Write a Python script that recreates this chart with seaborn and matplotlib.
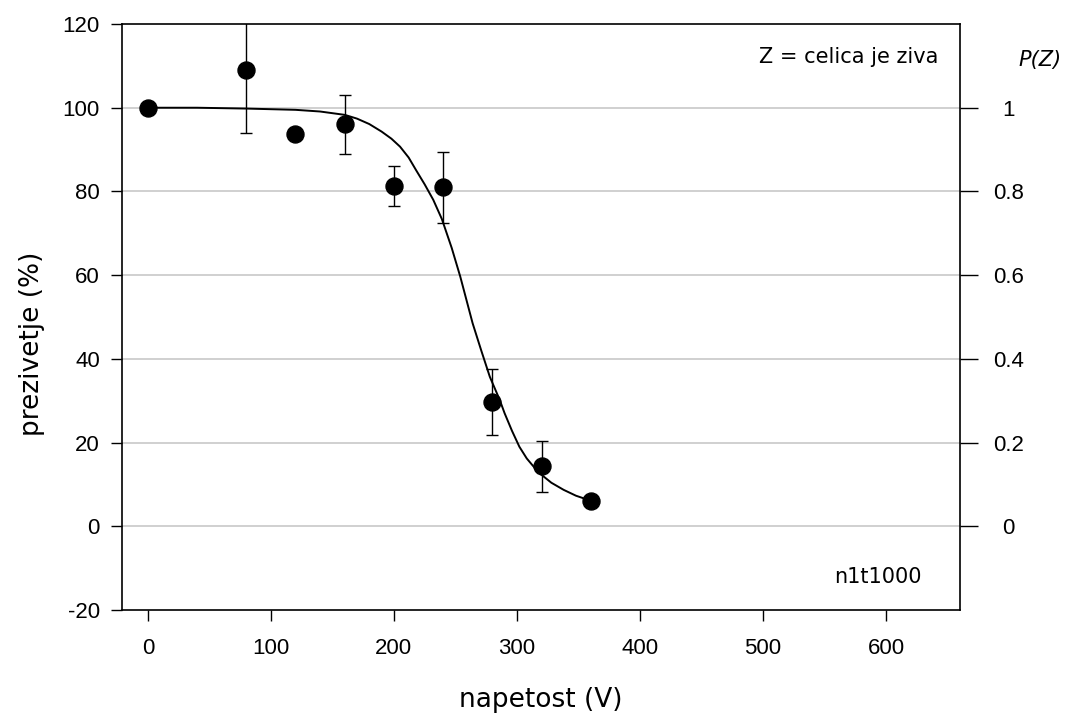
import numpy as np
import pandas as pd
import matplotlib
matplotlib.use("Agg")
import matplotlib.pyplot as plt
import seaborn as sns

# Measured survival points with error bars
napetost = [0, 80, 120, 160, 200, 240, 280, 320, 360]
prezivetje = [100, 109, 93.8, 96, 81.3, 81, 29.7, 14.3, 6]
napaka = [0, 15, 0, 7, 4.8, 8.5, 7.8, 6, 0]

# Fitted curve
krivulja_x = [0, 40, 80, 120, 140, 160, 170, 180, 190, 198, 205, 212, 218,
              225, 232, 239, 247, 254, 264, 271, 278, 286, 290, 296, 302,
              308, 314, 320, 328, 338, 348, 360]
krivulja_y = [100, 100, 99.8, 99.5, 99.1, 98.3, 97.4, 96.1, 94.3, 92.6, 90.7,
              88.1, 85.1, 81.7, 78, 73.4, 66.5, 59.6, 48.5, 42, 35.7, 30.2,
              27, 22.8, 19, 16.2, 14.1, 12.3, 10.4, 8.7, 7.3, 6.1]

x_ticks = [0, 100, 200, 300, 400, 500, 600]
y_ticks = [-20, 0, 20, 40, 60, 80, 100, 120]
p_ticks = [0, 0.2, 0.4, 0.6, 0.8, 1]
p_labels = ["0", "0.2", "0.4", "0.6", "0.8", "1"]

sns.set_style("white")
plt.rcParams['font.family'] = ['Liberation Sans', 'DejaVu Sans']
plt.rcParams['axes.unicode_minus'] = False
plt.rcParams['text.color'] = 'black'
plt.rcParams['axes.labelcolor'] = 'black'
label_font = 'DejaVu Sans'

fig = plt.figure(figsize=(10.76, 7.13), dpi=100)
ax = fig.add_axes([0.1134, 0.1445, 0.7786, 0.8218])

df_fit = pd.DataFrame({'x': krivulja_x, 'y': krivulja_y})
df_pts = pd.DataFrame({'x': napetost, 'y': prezivetje, 'err': napaka})

# horizontal grid
for g in [0, 20, 40, 60, 80, 100]:
    ax.axhline(g, color='#c8c8c8', lw=1.2, zorder=0)

sns.lineplot(data=df_fit, x='x', y='y', ax=ax, color='black', lw=1.4,
             sort=False, estimator=None, zorder=2)

e = df_pts[df_pts['err'] > 0]
ax.errorbar(e['x'], e['y'], yerr=e['err'], fmt='none', ecolor='black',
            elinewidth=1, capsize=4.5, capthick=1, zorder=3)
sns.scatterplot(data=df_pts, x='x', y='y', ax=ax, color='black', s=150,
                edgecolor='black', zorder=4)

ax.set_xlim(-21, 660)
ax.set_ylim(-20, 120)
ax.set_xticks(x_ticks)
ax.set_yticks(y_ticks)
ax.tick_params(axis='x', direction='out', length=8, width=1, labelsize=16,
               pad=12, bottom=True, colors='black')
ax.tick_params(axis='y', direction='out', length=8, width=1, labelsize=16,
               pad=8, left=True, colors='black')
for s in ax.spines.values():
    s.set_color('black')
    s.set_linewidth(1.2)

ax.set_xlabel('napetost (V)', fontsize=19, family=label_font, labelpad=20)
ax.set_ylabel('prezivetje (%)', fontsize=19, family=label_font)
ax.yaxis.set_label_coords(-0.092, 0.455)

# right axis: P(Z)
ax2 = ax.twinx()
ax2.set_ylim(-0.2, 1.2)
ax2.set_yticks(p_ticks)
ax2.set_yticklabels(p_labels, ha='center')
ax2.tick_params(axis='y', direction='out', length=13, width=1, labelsize=16,
                pad=22, right=True, colors='black')
ax2.grid(False)
for s in ax2.spines.values():
    s.set_visible(False)

ax.text(0.975, 0.96, 'Z = celica je ziva', transform=ax.transAxes,
        ha='right', va='top', fontsize=15, family=label_font)
ax.text(0.955, 0.04, 'n1t1000', transform=ax.transAxes,
        ha='right', va='bottom', fontsize=15, family=label_font)
fig.text(1040 / 1076, 1 - 60 / 713, 'P(Z)', ha='center', va='center',
         fontsize=15, style='italic', family=label_font)

fig.savefig('out.png', dpi=100)
